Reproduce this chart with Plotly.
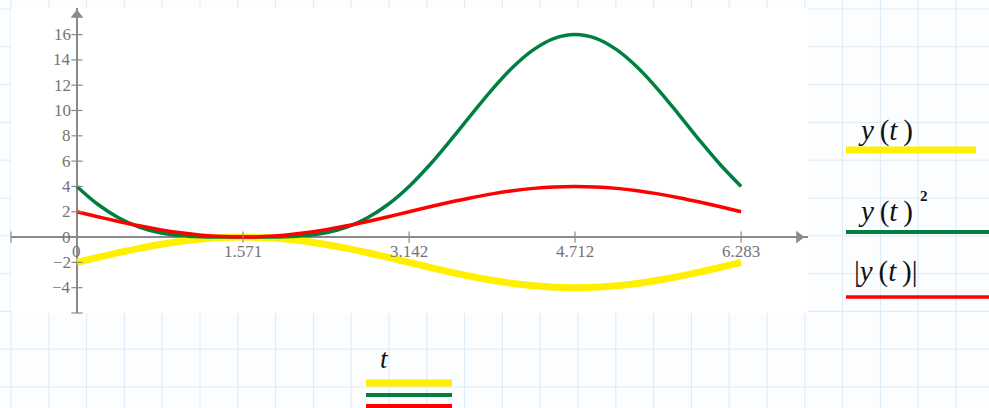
import plotly.graph_objects as go

# sample points t over one period
t_vals = [0.000, 0.196, 0.393, 0.589, 0.785, 0.982, 1.178, 1.374, 1.571,
          1.767, 1.963, 2.160, 2.356, 2.553, 2.749, 2.945, 3.142,
          3.338, 3.534, 3.731, 3.927, 4.123, 4.320, 4.516, 4.712,
          4.909, 5.105, 5.301, 5.498, 5.694, 5.890, 6.087, 6.283]

y_vals = [-2.000, -1.610, -1.235, -0.889, -0.586, -0.337, -0.152, -0.038, 0.000,
          -0.038, -0.152, -0.337, -0.586, -0.889, -1.235, -1.610, -2.000,
          -2.390, -2.765, -3.111, -3.414, -3.663, -3.848, -3.962, -4.000,
          -3.962, -3.848, -3.663, -3.414, -3.111, -2.765, -2.390, -2.000]

y_sq_vals = [4.000, 2.592, 1.525, 0.790, 0.343, 0.114, 0.023, 0.001, 0.000,
             0.001, 0.023, 0.114, 0.343, 0.790, 1.525, 2.592, 4.000,
             5.712, 7.645, 9.679, 11.657, 13.418, 14.807, 15.698, 16.000,
             15.698, 14.807, 13.418, 11.657, 9.679, 7.645, 5.712, 4.000]

y_abs_vals = [2.000, 1.610, 1.235, 0.889, 0.586, 0.337, 0.152, 0.038, 0.000,
              0.038, 0.152, 0.337, 0.586, 0.889, 1.235, 1.610, 2.000,
              2.390, 2.765, 3.111, 3.414, 3.663, 3.848, 3.962, 4.000,
              3.962, 3.848, 3.663, 3.414, 3.111, 2.765, 2.390, 2.000]

x_ticks = [0, 1.571, 3.142, 4.712, 6.283]
x_tick_labels = ["0", "1.571", "3.142", "4.712", "6.283"]
y_ticks = [-4, -2, 0, 2, 4, 6, 8, 10, 12, 14, 16]
y_tick_labels = ["\u22124", "\u22122", "0", "2", "4", "6", "8", "10", "12", "14", "16"]

W, H = 989, 408
YELLOW, GREEN, RED = "#fff000", "#008040", "#ff0000"
AXIS = "#8a8a8a"
TICK_TEXT = "#747474"
MATH_FONT = "Liberation Serif"

X_RANGE = [-0.624, 6.916]
Y_RANGE = [-6.0, 18.1]
PLOT_BOX = (11, 8, 808, 313)  # left, top, right, bottom in pixels

fig = go.Figure()

# curves
fig.add_trace(go.Scatter(x=t_vals, y=y_vals, mode="lines", line=dict(color=YELLOW, width=7, shape="spline")))
fig.add_trace(go.Scatter(x=t_vals, y=y_sq_vals, mode="lines", line=dict(color=GREEN, width=3.5, shape="spline")))
fig.add_trace(go.Scatter(x=t_vals, y=y_abs_vals, mode="lines", line=dict(color=RED, width=3.5, shape="spline")))

# tick marks crossing the axes
fig.add_trace(go.Scatter(x=x_ticks + [X_RANGE[0]], y=[0] * (len(x_ticks) + 1), mode="markers",
                         marker=dict(symbol="line-ns", size=8, line=dict(color=AXIS, width=1.2)),
                         cliponaxis=False))
fig.add_trace(go.Scatter(x=[0] * (len(y_ticks) + 1), y=y_ticks + [Y_RANGE[0]], mode="markers",
                         marker=dict(symbol="line-ew", size=8, line=dict(color=AXIS, width=1.2)),
                         cliponaxis=False))
# arrow heads
fig.add_trace(go.Scatter(x=[0], y=[17.55], mode="markers",
                         marker=dict(symbol="triangle-up", size=11, color=AXIS), cliponaxis=False))
fig.add_trace(go.Scatter(x=[6.83], y=[0], mode="markers",
                         marker=dict(symbol="triangle-right", size=11, color=AXIS), cliponaxis=False))

annotations = []

# tick labels
for v, s in zip(x_ticks, x_tick_labels):
    annotations.append(dict(text=s, x=v, y=0, xref="x", yref="y", xanchor="center", yanchor="top",
                            yshift=-3, showarrow=False,
                            font=dict(family=MATH_FONT, size=17, color=TICK_TEXT)))
for v, s in zip(y_ticks, y_tick_labels):
    annotations.append(dict(text=s, x=0, y=v, xref="x", yref="y", xanchor="right", yanchor="middle",
                            xshift=-4, showarrow=False,
                            font=dict(family=MATH_FONT, size=17, color=TICK_TEXT)))

shapes = []
# worksheet grid behind everything
k = 0
while 11 + 37.8 * k <= W:
    x = (11 + 37.8 * k) / W
    shapes.append(dict(type="line", xref="paper", yref="paper", x0=x, x1=x, y0=0, y1=1,
                       line=dict(color="#dbe9f8", width=1), layer="below"))
    k += 1
k = 0
while 9 + 37.8 * k <= H:
    y = 1 - (9 + 37.8 * k) / H
    shapes.append(dict(type="line", xref="paper", yref="paper", x0=0, x1=1, y0=y, y1=y,
                       line=dict(color="#dbe9f8", width=1), layer="below"))
    k += 1

# white plot region over the grid
l, t, r, b = PLOT_BOX
shapes.append(dict(type="rect", xref="paper", yref="paper", x0=l / W, x1=r / W,
                   y0=1 - b / H, y1=1 - t / H, fillcolor="white", line=dict(width=0), layer="below"))


def hline(x0, x1, y, color, width):
    shapes.append(dict(type="line", xref="paper", yref="paper", x0=x0 / W, x1=x1 / W,
                       y0=1 - y / H, y1=1 - y / H, line=dict(color=color, width=width)))


# legend swatches
hline(846, 976, 150, YELLOW, 7)
hline(846, 989, 232, GREEN, 4)
hline(846, 989, 297, RED, 3.5)
hline(366, 452, 383, YELLOW, 7)
hline(366, 452, 395, GREEN, 4)
hline(366, 452, 406, RED, 4)


def label(text, x, y, size, anchor="left"):
    annotations.append(dict(text=text, xref="paper", yref="paper", x=x / W, y=1 - y / H,
                            xanchor=anchor, yanchor="middle", showarrow=False,
                            font=dict(family=MATH_FONT, size=size, color="#111111")))


label("<i>y</i>\u2009(<i>t</i>\u2009)", 856, 130, 29)
label("<i>y</i>\u2009(<i>t</i>\u2009)", 856, 211, 29)
label("<b>2</b>", 918, 196, 15)
label("|<i>y</i>\u2009(<i>t</i>\u2009)|", 852, 271, 29)
label("<i>t</i>", 384, 359, 27, anchor="center")

fig.update_layout(
    width=W, height=H,
    margin=dict(l=0, r=0, t=0, b=0),
    paper_bgcolor="#fbfdff",
    plot_bgcolor="rgba(0,0,0,0)",
    showlegend=False,
    shapes=shapes,
    annotations=annotations,
    xaxis=dict(domain=[l / W, r / W], range=X_RANGE, showgrid=False, showticklabels=False,
               ticks="", zeroline=True, zerolinecolor=AXIS, zerolinewidth=1.5, fixedrange=True),
    yaxis=dict(domain=[1 - b / H, 1 - t / H], range=Y_RANGE, showgrid=False, showticklabels=False,
               ticks="", zeroline=True, zerolinecolor=AXIS, zerolinewidth=1.5, fixedrange=True),
)

fig.write_html("out.html")
